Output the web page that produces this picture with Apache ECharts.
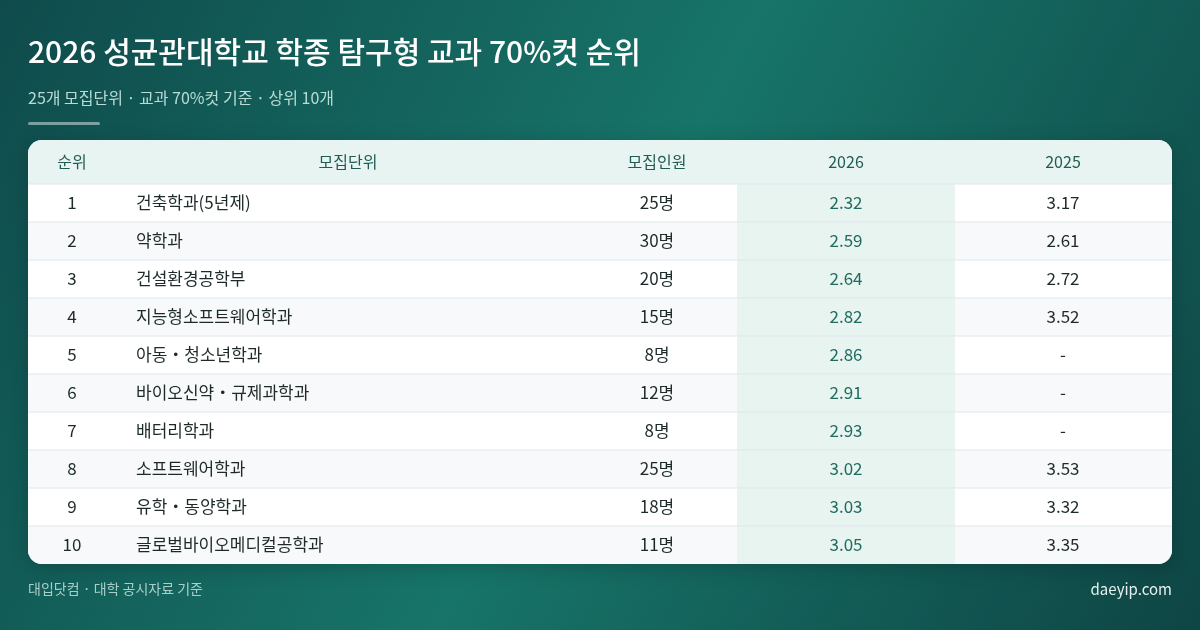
<!DOCTYPE html>
<html>
<head>
<meta charset="utf-8">
<script src="https://cdn.jsdelivr.net/npm/echarts@6/dist/echarts.min.js"></script>
<style>html,body{margin:0;padding:0;} #chart{width:1200px;height:630px;}</style>
</head>
<body>
<div id="chart"></div>
<script>
// 표 데이터
const headers = ['순위', '모집단위', '모집인원', '2026', '2025'];
const ranks = ['1', '2', '3', '4', '5', '6', '7', '8', '9', '10'];
const units = ['건축학과(5년제)', '약학과', '건설환경공학부', '지능형소프트웨어학과', '아동・청소년학과',
  '바이오신약・규제과학과', '배터리학과', '소프트웨어학과', '유학・동양학과', '글로벌바이오메디컬공학과'];
const counts = ['25명', '30명', '20명', '15명', '8명', '12명', '8명', '25명', '18명', '11명'];
const cut2026 = ['2.32', '2.59', '2.64', '2.82', '2.86', '2.91', '2.93', '3.02', '3.03', '3.05'];
const cut2025 = ['3.17', '2.61', '2.72', '3.52', '-', '-', '-', '3.53', '3.32', '3.35'];

const FONT = '"Noto Sans CJK KR", "Noto Sans", sans-serif';
const chart = echarts.init(document.getElementById('chart'));

// 표 배치
const L = 28, R = 1172, TOP = 140, HEAD_H = 44, ROW_H = 38;
const colX = [72, 136, 657, 846, 1063];      // 열 기준점
const colAlign = ['center', 'left', 'center', 'center', 'center'];
const col26 = [737, 955];

const els = [];
const txt = (x, y, s, size, color, align, weight) => ({
  type: 'text', x: x, y: y,
  style: { text: s, fontSize: size, fill: color, fontFamily: FONT, align: align || 'left',
           verticalAlign: 'middle', fontWeight: weight || 'normal' }
});

// 제목
els.push(txt(28, 52, '2026 성균관대학교 학종 탐구형 교과 70%컷 순위', 30, '#ffffff', 'left', 500));
els.push(txt(28, 98, '25개 모집단위 · 교과 70%컷 기준 · 상위 10개', 16, '#b9dcd5'));
els.push({ type: 'rect', shape: { x: 28, y: 122, width: 72, height: 3, r: 1.5 }, style: { fill: 'rgba(255,255,255,0.45)' } });

// 카드
const nRows = ranks.length;
const bottom = TOP + HEAD_H + nRows * ROW_H;
els.push({ type: 'rect', shape: { x: L, y: TOP, width: R - L, height: bottom - TOP, r: 14 },
  style: { fill: '#ffffff', shadowBlur: 20, shadowColor: 'rgba(0,0,0,0.18)', shadowOffsetY: 4 } });
els.push({ type: 'rect', shape: { x: L, y: TOP, width: R - L, height: HEAD_H, r: [14, 14, 0, 0] },
  style: { fill: '#e7f4f1' } });

ranks.forEach(function (r, i) {
  const y = TOP + HEAD_H + i * ROW_H;
  if (i % 2 === 1) {
    els.push({ type: 'rect', shape: { x: L, y: y, width: R - L, height: ROW_H, r: i === nRows - 1 ? [0, 0, 14, 14] : 0 },
      style: { fill: '#f7f9fb' } });
  }
});
els.push({ type: 'rect', shape: { x: col26[0], y: TOP + HEAD_H, width: col26[1] - col26[0], height: nRows * ROW_H },
  style: { fill: '#e8f4f0' } });
for (let i = 0; i < nRows; i++) {
  const y = TOP + HEAD_H + i * ROW_H;
  els.push({ type: 'line', shape: { x1: L, y1: y, x2: R, y2: y }, style: { stroke: '#e1e7ec', lineWidth: 1 } });
}

headers.forEach(function (h, c) {
  els.push(txt(colX[c], TOP + HEAD_H / 2, h, 16, '#1f5a53', c === 1 ? 'center' : colAlign[c]));
});
els[els.length - 4].x = 348;

ranks.forEach(function (r, i) {
  const y = TOP + HEAD_H + i * ROW_H + ROW_H / 2;
  const row = [r, units[i], counts[i], cut2026[i], cut2025[i]];
  row.forEach(function (v, c) {
    els.push(txt(colX[c], y, v, 17, c === 3 ? '#1f6b60' : '#1e2a2a', colAlign[c]));
  });
});

// 출처
els.push(txt(28, 589, '대입닷컴 · 대학 공시자료 기준', 14, '#a9cfc8'));
els.push(txt(1172, 589, 'daeyip.com', 15, '#e6f2ef', 'right'));

chart.setOption({
  backgroundColor: {
    type: 'linear', x: 0, y: 0, x2: 1, y2: 1,
    colorStops: [
      { offset: 0, color: '#0f4b4c' },
      { offset: 0.5, color: '#177468' },
      { offset: 1, color: '#0e4545' }
    ]
  },
  graphic: els
});
</script>
</body>
</html>
